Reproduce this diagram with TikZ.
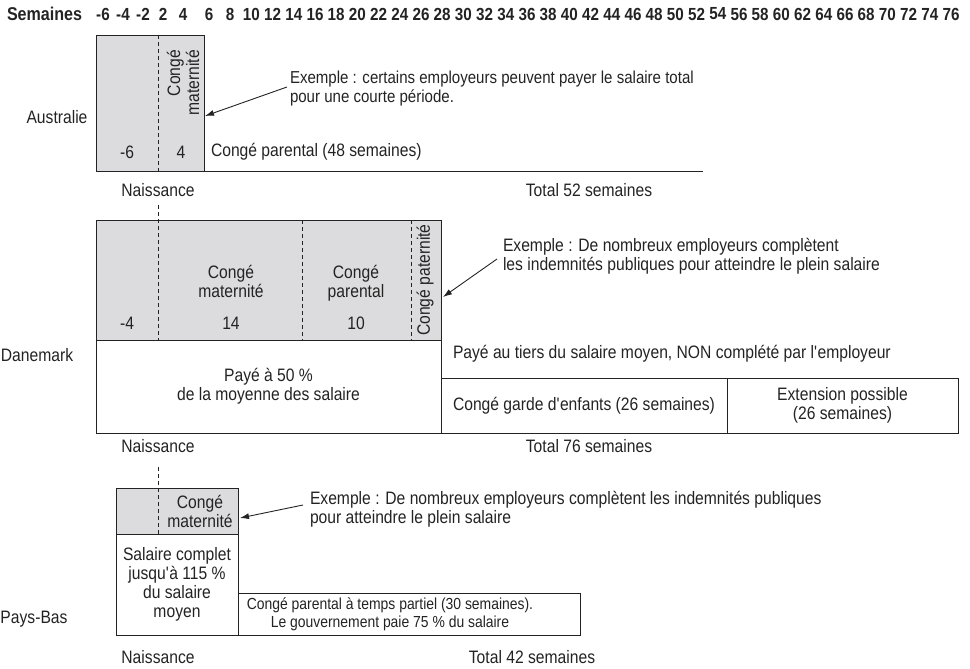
\documentclass[tikz,border=0pt]{standalone}
\usepackage{fontspec}
\setmainfont{Liberation Sans}[FakeStretch=0.87]
\usetikzlibrary{arrows.meta}
\definecolor{gfill}{RGB}{220,220,222}
\definecolor{lc}{RGB}{35,35,35}
\newcommand{\apos}{\textquotesingle}
\begin{document}
\begin{tikzpicture}[x=1pt,y=-1pt,
  every node/.style={font=\fontsize{18}{19}\selectfont, text=lc, inner sep=0pt, outer sep=0pt},
  hdr/.style={font=\fontsize{17.5}{19}\selectfont\bfseries},
  small/.style={font=\fontsize{16}{18}\selectfont},
  box/.style={draw=lc, line width=0.9pt, anchor=north west, align=center},
  gbox/.style={box, fill=gfill},
  dashl/.style={draw=lc, line width=0.9pt, dash pattern=on 4pt off 3pt},
  solidl/.style={draw=lc, line width=0.9pt},
  arr/.style={draw=lc, line width=0.9pt, -{Latex[length=9pt,width=6pt]}}]
\useasboundingbox (0,0) rectangle (970,669);

% header
\node[hdr, anchor=west, font=\fontsize{18.5}{19}\selectfont\bfseries] (hsem) at (7,14) {Semaines};
\foreach \n/\x in {-6/103,-4/123,-2/143,2/163,4/183}
  \node[hdr] (hn\n) at (\x,14) {\n};
\foreach \i in {0,...,35}{
  \pgfmathtruncatemacro{\lab}{6+2*\i}
  \node[hdr] (hp\i) at (209+21.2*\i,14) {\lab};
}

% ---------------- Australie
\node (au) at (57,117) {Australie};
\node[gbox, minimum width=108, minimum height=136] (augray) at (96,35) {};
\coordinate (audt) at (158,35); \coordinate (audb) at (158,171);
\draw[dashl] (audt) -- (audb);
\node (au6) at (127,152) {-6};
\node (au4) at (181,152) {4};
\node[rotate=90, anchor=east, align=right] (aumat) at (183,50) {Congé\\maternité};
\coordinate (auend) at (703,171);
\draw[solidl] (augray.south east) -- (auend);
\node[anchor=west] (aupar) at (211,152) {Congé parental (48 semaines)};
\node[anchor=west, align=left, font=\fontsize{17.3}{19}\selectfont] (auann) at (290,89) {Exemple : certains employeurs peuvent payer le salaire total\\pour une courte période.};
\coordinate (austart) at (287,87); \coordinate (autip) at (205,116);
\draw[arr] (austart) -- (autip);
\node (aunai) at (158,190) {Naissance};
\node (autot) at (589,190) {Total 52 semaines};

% ---------------- Danemark
\node (dk) at (37,355) {Danemark};
\node[gbox, minimum width=345, minimum height=120] (dkgray) at (96,220) {};
\node[box, minimum width=345, minimum height=93] (dkwhite) at (96,340) {Payé à 50 \%\\de la moyenne des salaire};
\coordinate (dkd1t) at (158,205); \coordinate (dkd1b) at (158,340);
\coordinate (dkd2t) at (302,220); \coordinate (dkd2b) at (302,340);
\coordinate (dkd3t) at (411,220); \coordinate (dkd3b) at (411,340);
\draw[dashl] (dkd1t) -- (dkd1b);
\draw[dashl] (dkd2t) -- (dkd2b);
\draw[dashl] (dkd3t) -- (dkd3b);
\node (dk4) at (127,323) {-4};
\node (dk14) at (231,323) {14};
\node (dk10) at (356,323) {10};
\node[align=center] (dkmat) at (231,281) {Congé\\maternité};
\node[align=center] (dkpar) at (356,283) {Congé\\parental};
\node[rotate=90] (dkpat) at (425,280) {Congé paternité};
\node[anchor=west] (dktiers) at (453,354) {Payé au tiers du salaire moyen, NON complété par l\apos employeur};
\node[box, minimum width=286, minimum height=55] (dkgarde) at (441,378) {Congé garde d\apos enfants (26 semaines)};
\node[box, minimum width=231, minimum height=55] (dkext) at (727,378) {Extension possible\\(26 semaines)};
\node[anchor=west, align=left] (dkann) at (503,256) {Exemple : De nombreux employeurs complètent\\les indemnités publiques pour atteindre le plein salaire};
\coordinate (dkstart) at (497,259); \coordinate (dktip) at (443,297);
\draw[arr] (dkstart) -- (dktip);
\node (dknai) at (158,446) {Naissance};
\node (dktot) at (589,446) {Total 76 semaines};

% ---------------- Pays-Bas
\node (nl) at (34,619) {Pays-Bas};
\node[gbox, minimum width=122, minimum height=46] (nlgray) at (116,488) {};
\node[box, minimum width=122, minimum height=101] (nlwhite) at (116,534) {Salaire complet\\jusqu\apos à 115 \%\\du salaire\\moyen};
\coordinate (nldt) at (158,467); \coordinate (nldb) at (158,534);
\draw[dashl] (nldt) -- (nldb);
\node[align=center] (nlmat) at (200,511) {Congé\\maternité};
\node[box, minimum width=342, minimum height=42] (nlpart) at (238,593) {};
\node[align=center, small] (nlparttxt) at (390,614) {Congé parental à temps partiel (30 semaines).\\Le gouvernement paie 75 \% du salaire};
\node[anchor=west, align=left] (nlann) at (310,509) {Exemple : De nombreux employeurs complètent les indemnités publiques\\pour atteindre le plein salaire};
\coordinate (nlstart) at (303,505); \coordinate (nltip) at (240,518);
\draw[arr] (nlstart) -- (nltip);
\node (nlnai) at (158,657) {Naissance};
\node (nltot) at (532,657) {Total 42 semaines};
\end{tikzpicture}
\end{document}
